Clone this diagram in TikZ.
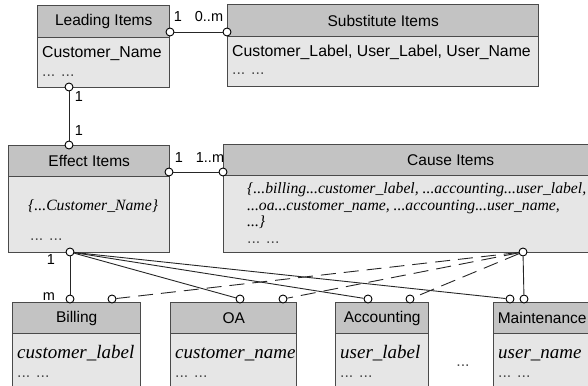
\documentclass[tikz,border=0pt]{standalone}
\usepackage{fontspec}
\setmainfont{Liberation Sans}
\newfontfamily\serifit{Liberation Serif}
\definecolor{hdrgray}{HTML}{C3C3C3}
\definecolor{bdygray}{HTML}{E6E6E6}
\definecolor{boxline}{HTML}{4A4A4A}
\begin{document}
\begin{tikzpicture}[x=1pt,y=-1pt,
  hdr/.style={draw=boxline, line width=1.4pt, fill=hdrgray, anchor=north west,
    inner sep=0pt, font=\fontsize{15.5}{18}\selectfont},
  bdy/.style={draw=boxline, line width=1.4pt, fill=bdygray, anchor=north west, inner sep=0pt},
  pin/.style={circle, draw=black, fill=white, line width=0.9pt, inner sep=0pt, minimum size=8pt},
  lnk/.style={line width=0.9pt, draw=black!85},
  dsh/.style={lnk, dash pattern=on 15pt off 8pt},
  card/.style={font=\fontsize{14.5}{16}\selectfont, inner sep=0pt},
  attr/.style={anchor=base west, inner sep=0pt, font=\fontsize{15.8}{18}\selectfont},
  iattr/.style={anchor=base west, inner sep=0pt, font=\serifit\itshape\fontsize{15.7}{19}\selectfont},
  battr/.style={iattr, font=\serifit\itshape\fontsize{19}{22}\selectfont},
  dots/.style={attr, text=black!70}]
\useasboundingbox (0,0) rectangle (588,385);
\clip (0,0) rectangle (588,385);

% entity boxes: header + body
\node[bdy, minimum width=132pt, minimum height=50pt] (leadB) at (37,37) {};
\node[hdr, minimum width=132pt, minimum height=32pt] (lead) at (37,5) {Leading Items};
\node[bdy, minimum width=311pt, minimum height=50pt] (subB) at (227,36) {};
\node[hdr, minimum width=311pt, minimum height=32pt] (sub) at (227,4) {Substitute Items};
\node[bdy, minimum width=161pt, minimum height=76pt] (effB) at (8,176) {};
\node[hdr, minimum width=161pt, minimum height=31pt] (eff) at (8,145) {Effect Items};
\node[bdy, minimum width=454pt, minimum height=77pt] (cauB) at (223,175) {};
\node[hdr, minimum width=454pt, minimum height=31pt] (cau) at (223,144) {Cause Items};
\node[bdy, minimum width=128pt, minimum height=70pt] (bilB) at (12,333) {};
\node[hdr, minimum width=128pt, minimum height=31pt] (bil) at (12,302) {Billing};
\node[bdy, minimum width=126pt, minimum height=70pt] (oaB) at (170,333) {};
\node[hdr, minimum width=126pt, minimum height=31pt] (oa) at (170,302) {OA};
\node[bdy, minimum width=93pt, minimum height=70pt] (accB) at (335,333) {};
\node[hdr, minimum width=93pt, minimum height=31pt] (acc) at (335,302) {Accounting};
\node[bdy, minimum width=97pt, minimum height=70pt] (mntB) at (493,333) {};
\node[hdr, minimum width=97pt, minimum height=31pt] (mnt) at (493,302) {Maintenance};

% attributes
\node[attr] (la1) at (42,58) {Customer\_Name};
\node[dots] (la2) at (42,77) {... ...};
\node[attr] (sa1) at (232,57) {Customer\_Label, User\_Label, User\_Name};
\node[dots] (sa2) at (232,75) {... ...};
\node[iattr] (ea1) at (28,210) {\{...Customer\_Name\}};
\node[dots] (ea2) at (30,240) {... ...};
\node[iattr] (ca1) at (247,193) {\{...billing...customer\_label, ...accounting...user\_label,};
\node[iattr] (ca2) at (247,210) {...oa...customer\_name, ...accounting...user\_name,};
\node[iattr] (ca3) at (247,226) {...\}};
\node[dots] (ca4) at (247,243) {... ...};
\node[battr] (ba1) at (17,358) {customer\_label};
\node[dots] (ba2) at (17,377) {... ...};
\node[battr] (oa1) at (175,358) {customer\_name};
\node[dots] (oa2) at (175,377) {... ...};
\node[battr] (aa1) at (340,358) {user\_label};
\node[dots] (aa2) at (340,377) {... ...};
\node[battr] (ma1) at (498,358) {user\_name};
\node[dots] (ma2) at (498,377) {... ...};
\node[dots, anchor=base] (more) at (463,366) {...};

% connection points
\node[pin] (pLr) at (170,32) {};
\node[pin] (pSl) at (227,32) {};
\node[pin] (pLb) at (69,87) {};
\node[pin] (pEt) at (69,145) {};
\node[pin] (pEr) at (169,172) {};
\node[pin] (pCl) at (223,172) {};
\node[pin] (pEb) at (70,252) {};
\node[pin] (pCb) at (523,252) {};
\node[pin] (pB1) at (70,299) {};
\node[pin] (pB2) at (112,299) {};
\node[pin] (pO1) at (240,299) {};
\node[pin] (pO2) at (283,299) {};
\node[pin] (pA1) at (368,299) {};
\node[pin] (pA2) at (410,299) {};
\node[pin] (pM1) at (510,299) {};
\node[pin] (pM2) at (524,299) {};

% relationships
\draw[lnk] (pLr) -- (pSl);
\draw[lnk] (pLb) -- (pEt);
\draw[lnk] (pEr) -- (pCl);
\draw[lnk] (pEb) -- (pB1);
\draw[lnk] (pEb) -- (pO1);
\draw[lnk] (pEb) -- (pA1);
\draw[lnk] (pEb) -- (pM1);
\draw[dsh] (pCb) -- (pB2);
\draw[dsh] (pCb) -- (pO2);
\draw[dsh] (pCb) -- (pA2);
\draw[lnk] (pCb) -- (pM2);

% cardinalities
\node[card] (c1) at (178,17) {1};
\node[card] (c2) at (209,17) {0..m};
\node[card] (c3) at (79,97) {1};
\node[card] (c4) at (79,131) {1};
\node[card] (c5) at (179,158) {1};
\node[card] (c6) at (210,158) {1..m};
\node[card] (c7) at (51,260) {1};
\node[card] (c8) at (49,297) {m};
\end{tikzpicture}
\end{document}
